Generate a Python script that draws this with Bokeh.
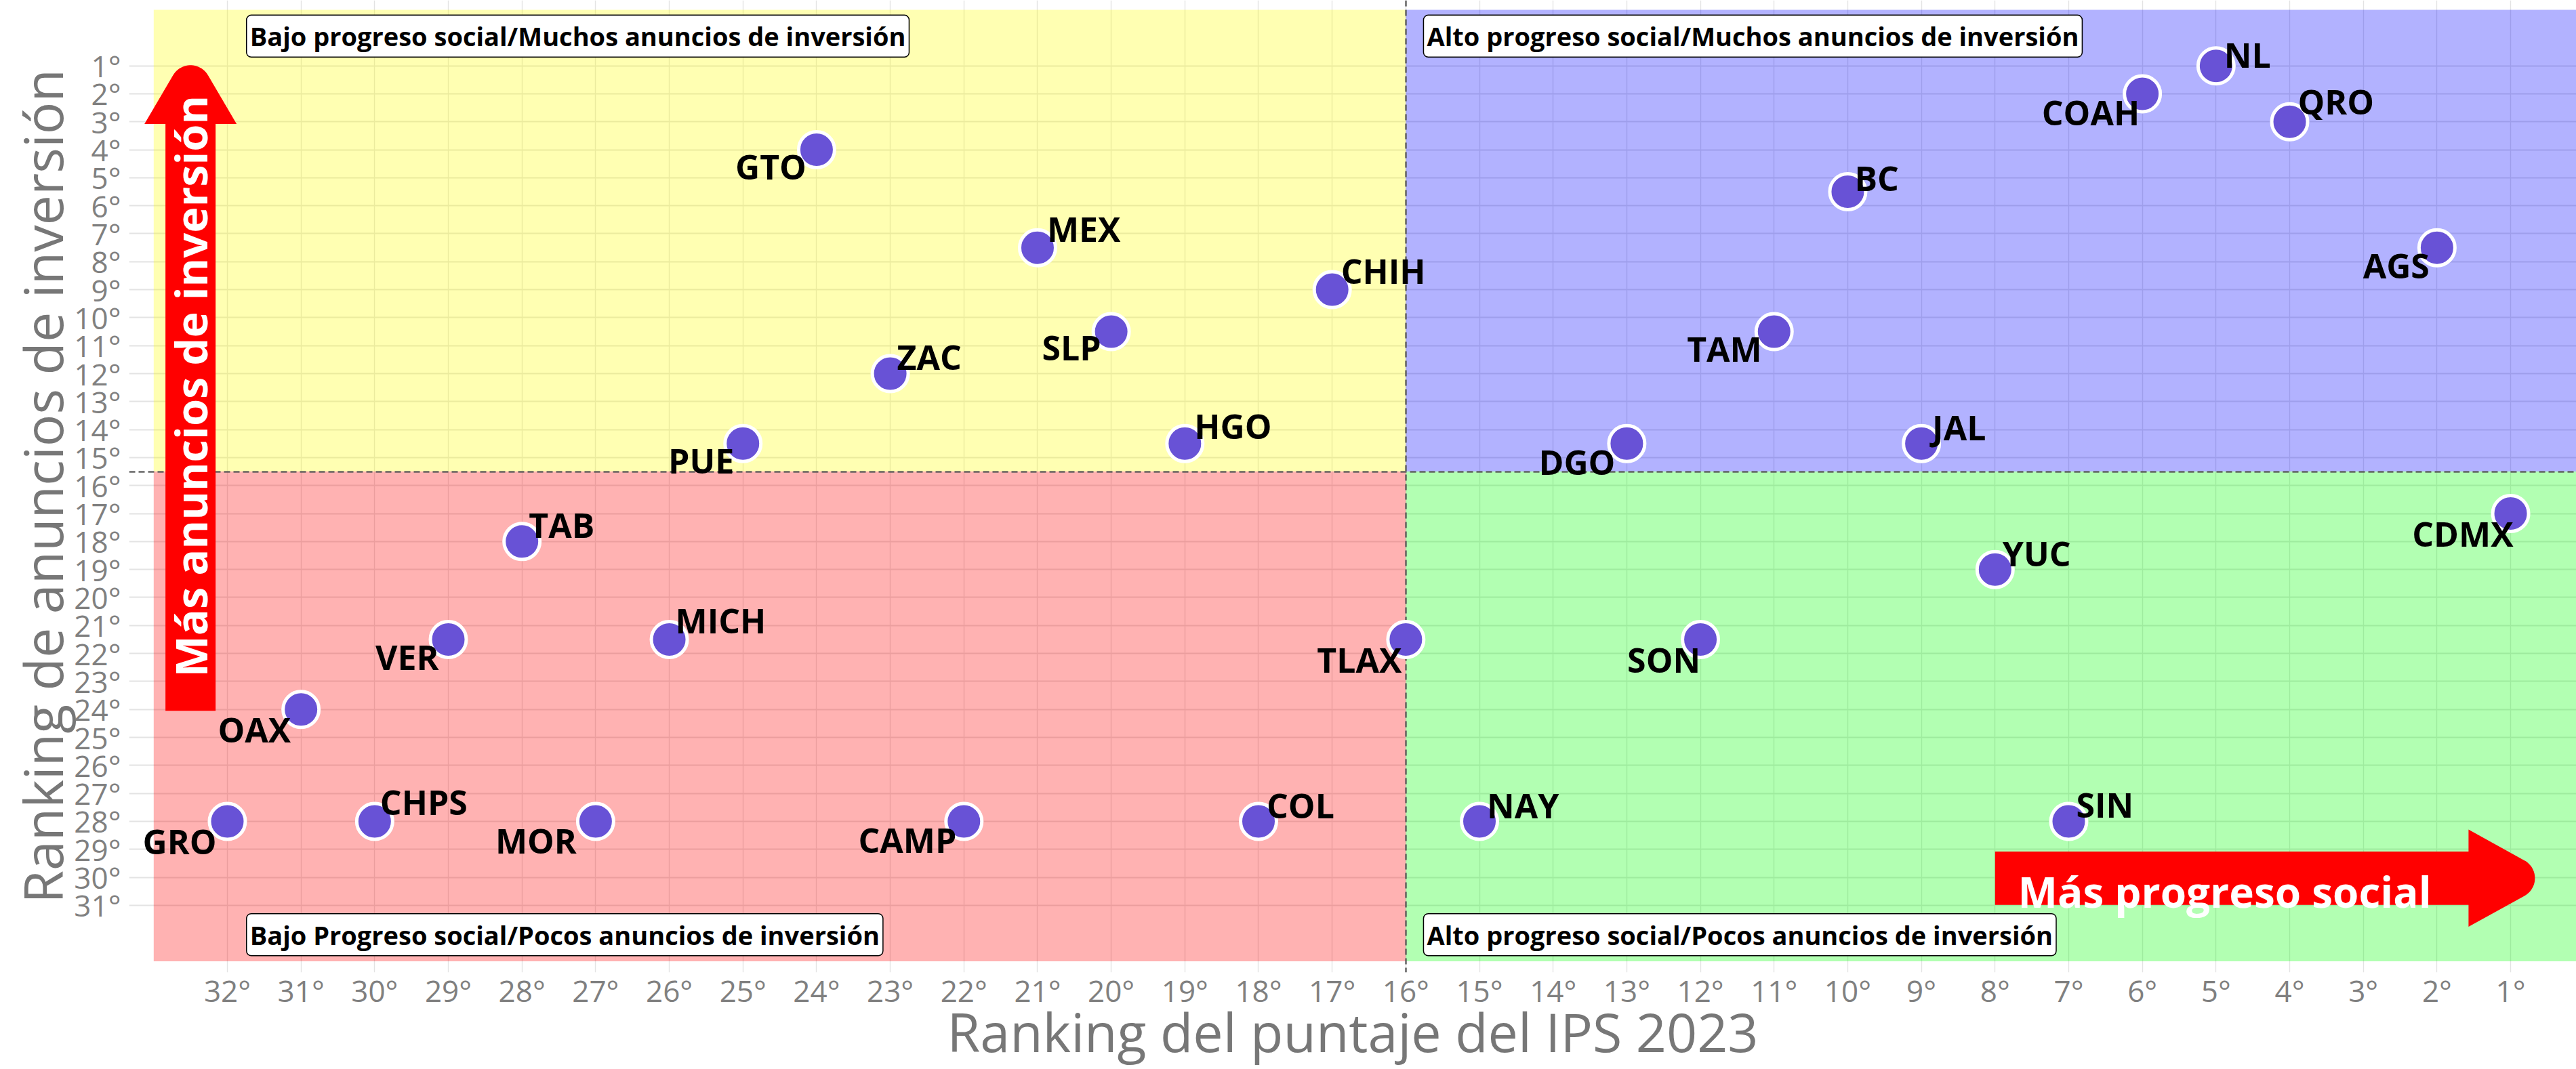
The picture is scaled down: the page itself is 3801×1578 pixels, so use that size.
import math
import numpy as np
from bokeh.plotting import figure
from bokeh.models import Range1d, FixedTicker, Label, ColumnDataSource
from bokeh.core.properties import value
from bokeh.embed import file_html
from bokeh.resources import INLINE

# ---------------- data ----------------
states = ["NL", "COAH", "QRO", "GTO", "BC", "MEX", "AGS", "CHIH", "SLP", "TAM",
          "ZAC", "PUE", "HGO", "DGO", "JAL", "CDMX", "TAB", "YUC", "VER", "MICH",
          "TLAX", "SON", "OAX", "GRO", "CHPS", "MOR", "CAMP", "COL", "NAY", "SIN"]
ips_rank = [5, 6, 4, 24, 10, 21, 2, 17, 20, 11,
            23, 25, 19, 13, 9, 1, 28, 8, 29, 26,
            16, 12, 31, 32, 30, 27, 22, 18, 15, 7]
inv_rank = [1, 2, 3, 4, 5.5, 7.5, 7.5, 9, 10.5, 10.5,
            12, 14.5, 14.5, 14.5, 14.5, 17, 18, 19, 21.5, 21.5,
            21.5, 21.5, 24, 28, 28, 28, 28, 28, 28, 28]

x_ticks = list(range(1, 33))
y_ticks = list(range(1, 32))
x_tick_labels = [f"{i}°" for i in x_ticks]
y_tick_labels = [f"{i}°" for i in y_ticks]

x_title = "Ranking del puntaje del IPS 2023"
y_title = "Ranking de anuncios de inversión"

# quadrant split values and extents
x_split = 16
y_split = 15.5
x_edges = [33, x_split, 0]
y_edges = [-1, y_split, 33]
quad_colors = ["#FFFF00", "#0000FF", "#FF0000", "#00FF00"]  # TL, TR, BL, BR

quad_texts = ["Bajo progreso social/Muchos anuncios de inversión",
              "Alto progreso social/Muchos anuncios de inversión",
              "Bajo Progreso social/Pocos anuncios de inversión",
              "Alto progreso social/Pocos anuncios de inversión"]
quad_text_x = [31.74, 15.76, 31.74, 15.76]
quad_text_y = [-0.06, -0.06, 32.05, 32.05]

# label placement (pixels)
label_offsets = {
    "NL": (12, -16), "QRO": (12, -30), "BC": (10, -20), "CHIH": (13, -28),
    "MEX": (14, -28), "ZAC": (10, -25), "HGO": (14, -26), "JAL": (16, -24),
    "TAB": (10, -24), "YUC": (11, -24), "MICH": (9, -28), "CHPS": (8, -28),
    "COL": (12, -23), "NAY": (11, -23), "SIN": (11, -24),
    "GTO": (-15, 25), "COAH": (-4, 28), "AGS": (-11, 26), "SLP": (-15, 23),
    "TAM": (-18, 25), "PUE": (-13, 25), "DGO": (-17, 27), "CDMX": (4, 30),
    "VER": (-14, 26), "TLAX": (-6, 30), "SON": (0, 30), "OAX": (-15, 30),
    "GRO": (-16, 30), "MOR": (-28, 29), "CAMP": (-11, 28),
}

# ---------------- figure geometry ----------------
W, H = 3801, 1578
BL, BR, BT, BB = 190, 0, 0, 138
X0, X1 = 33.334, 0.108
Y0, Y1 = 33.40, -1.340   # bottom, top (inverted axis)
frame_w = W - BL - BR
frame_h = H - BT - BB
ppx = frame_w / (X0 - X1)
ppy = frame_h / (Y0 - Y1)


def to_px(x, y):
    return ((X0 - x) * ppx, (y - Y1) * ppy)


def px_to_data(px, py):
    return X0 - px / ppx, Y1 + py / ppy


def arrow_patch(start, end, shaft_half, head_half, head_len, tip_r, n_arc=24):
    sx0, sy0 = to_px(*start)
    sx1, sy1 = to_px(*end)
    L = math.hypot(sx1 - sx0, sy1 - sy0)
    ux, uy = (sx1 - sx0) / L, (sy1 - sy0) / L
    nx, ny = -uy, ux
    base = L - head_len
    A = L
    for _ in range(100):
        alpha = math.atan(head_half / (A - base))
        d = tip_r / math.sin(alpha)
        A = L + d - tip_r
    alpha = math.atan(head_half / (A - base))
    d = tip_r / math.sin(alpha)
    c = A - d
    loc = [(0, -shaft_half), (base, -shaft_half), (base, -head_half)]
    for th in np.linspace(-(math.pi / 2 - alpha), (math.pi / 2 - alpha), n_arc):
        loc.append((c + tip_r * math.cos(th), tip_r * math.sin(th)))
    loc += [(base, head_half), (base, shaft_half), (0, shaft_half)]
    xs, ys = [], []
    for lu, lv in loc:
        px = sx0 + ux * lu + nx * lv
        py = sy0 + uy * lu + ny * lv
        dx, dy = px_to_data(px, py)
        xs.append(dx)
        ys.append(dy)
    return xs, ys


p = figure(width=W, height=H, x_range=Range1d(X0, X1), y_range=Range1d(Y0, Y1),
           output_backend="svg", toolbar_location=None,
           min_border_left=BL, min_border_right=BR, min_border_top=BT,
           min_border_bottom=BB)
p.outline_line_color = None
p.background_fill_color = "white"
p.border_fill_color = "white"

# grid
p.xgrid.ticker = FixedTicker(ticks=x_ticks)
p.ygrid.ticker = FixedTicker(ticks=y_ticks)
p.xgrid.grid_line_color = "#e3e3e3"
p.ygrid.grid_line_color = "#e3e3e3"
p.xgrid.grid_line_width = 1.4
p.ygrid.grid_line_width = 2.2

# quadrants
q_left = [x_edges[0], x_edges[1], x_edges[0], x_edges[1]]
q_right = [x_edges[1], x_edges[2], x_edges[1], x_edges[2]]
q_top = [y_edges[0], y_edges[0], y_edges[1], y_edges[1]]
q_bottom = [y_edges[1], y_edges[1], y_edges[2], y_edges[2]]
p.quad(left=q_left, right=q_right, top=q_top, bottom=q_bottom,
       fill_color=quad_colors, fill_alpha=0.3, line_color=None)

# dashed reference lines
p.vspan(x=[x_split], line_color="#555555", line_width=2.5, line_dash="9 5", line_alpha=0.9)
p.hspan(y=[y_split], line_color="#555555", line_width=2.5, line_dash="9 5", line_alpha=0.9)

# arrows
vx, vy = arrow_patch((32.5, 24.05), (32.5, 0.98), 37, 68, 87, 30)
p.patch(vx, vy, fill_color="#FF0000", line_color=None)
hx, hy = arrow_patch((8.0, 30.03), (0.67, 30.03), 39.5, 72, 98, 30)
p.patch(hx, hy, fill_color="#FF0000", line_color=None)

p.add_layout(Label(x=32.5, y=12.45, text="Más anuncios de inversión", angle=math.pi / 2,
                   text_align="center", text_baseline="middle",
                   text_font="Open Sans", text_font_style="bold", text_font_size="65px",
                   text_color="white"))
p.add_layout(Label(x=7.69, y=30.5, text="Más progreso social",
                   text_align="left", text_baseline="alphabetic",
                   text_font="Open Sans", text_font_style="bold", text_font_size="62px",
                   text_color="white"))

# points
src = ColumnDataSource(dict(
    x=ips_rank, y=inv_rank, name=states,
    dx=[label_offsets[s][0] for s in states],
    dy=[label_offsets[s][1] for s in states],
    align=["left" if label_offsets[s][1] < 0 else "right" for s in states],
))
p.scatter(x="x", y="y", source=src, size=53, fill_color="#6852D6",
          line_color="white", line_width=5)
p.text(x="x", y="y", text="name", source=src, x_offset="dx", y_offset="dy",
       text_align="align", text_baseline="middle", text_font=value("Open Sans"),
       text_font_style="bold", text_font_size="50px", text_color="black")

# quadrant labels
for t, qx, qy in zip(quad_texts, quad_text_x, quad_text_y):
    p.add_layout(Label(x=qx, y=qy, text=t, text_align="left", text_baseline="middle",
                       text_font="Open Sans", text_font_style="bold", text_font_size="38px",
                       text_color="black", background_fill_color="white",
                       border_line_color="black", border_line_width=1.5,
                       padding=5, border_radius=7))

# axes
for ax, ticks, labels in ((p.xaxis, x_ticks, x_tick_labels), (p.yaxis, y_ticks, y_tick_labels)):
    ax.ticker = FixedTicker(ticks=ticks)
    ax.major_label_overrides = {t: l for t, l in zip(ticks, labels)}
    ax.axis_line_color = None
    ax.major_tick_line_color = None
    ax.minor_tick_line_color = None
    ax.major_tick_out = 0
    ax.major_tick_in = 0
    ax.major_label_text_font = "Open Sans"
    ax.major_label_text_font_size = "44px"
    ax.major_label_text_color = "#808080"
    ax.axis_label_text_font = "Open Sans"
    ax.axis_label_text_font_style = "normal"
    ax.axis_label_text_font_size = "79px"
    ax.axis_label_text_color = "#777777"

p.xaxis.axis_label = x_title
p.xaxis.major_label_standoff = -4
p.xaxis.axis_label_standoff = -26
p.yaxis.axis_label = y_title
p.yaxis.major_label_standoff = 12
p.yaxis.axis_label_standoff = -10

open("out.html", "w").write(file_html(p, INLINE))
